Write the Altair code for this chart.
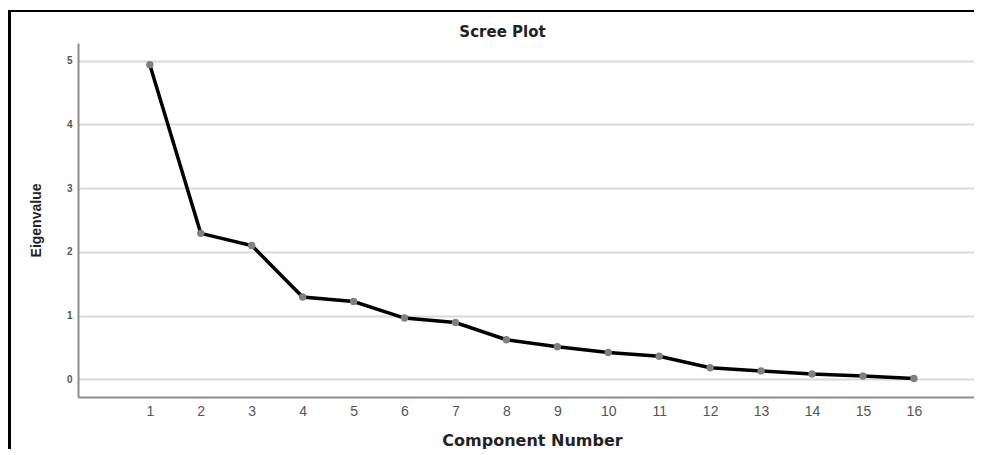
import altair as alt
import pandas as pd

components = list(range(1, 17))
eigenvalues = [4.94, 2.29, 2.10, 1.29, 1.22, 0.96, 0.89, 0.62,
               0.51, 0.42, 0.36, 0.18, 0.13, 0.08, 0.05, 0.01]
x_ticks = list(range(1, 17))
y_ticks = [0, 1, 2, 3, 4, 5]
chart_title = ["Scree Plot"]

df = pd.DataFrame({"Component Number": components, "Eigenvalue": eigenvalues})
tdf = pd.DataFrame({"t": chart_title})

W, H = 896, 354

x_enc = alt.X(
    "Component Number:Q",
    scale=alt.Scale(domain=[-0.41, 17.18], nice=False, zero=False),
    axis=alt.Axis(
        values=x_ticks, grid=False, ticks=False, domainColor="#8c8c8c", domainWidth=2,
        labelFont="Liberation Sans", labelFontSize=14, labelColor="#555555", labelPadding=7,
        title="Component Number", titleFont="DejaVu Sans", titleFontWeight="bold",
        titleFontSize=16, titleColor="#222222", titleX=454, titleY=43,
        titleAlign="center", titleBaseline="middle",
    ),
)
y_enc = alt.Y(
    "Eigenvalue:Q",
    scale=alt.Scale(domain=[-0.28, 5.28], nice=False, zero=False),
    axis=alt.Axis(
        values=y_ticks, grid=True, gridColor="#d9d9d9", gridWidth=2, ticks=False,
        domainColor="#8c8c8c", domainWidth=2,
        labelFont="Liberation Sans", labelFontSize=10, labelFontWeight="bold",
        labelColor="#555555", labelPadding=6,
        title="Eigenvalue", titleFont="Liberation Sans Narrow, Liberation Sans", titleFontWeight="bold",
        titleFontSize=14, titleColor="#222222", titleX=-42, titleY=H / 2,
        titleAlign="center", titleBaseline="middle",
    ),
)

base = alt.Chart(df)
line = base.mark_line(color="#000000", strokeWidth=3.5).encode(x=x_enc, y=y_enc)
pts = base.mark_circle(color="#808080", size=55, opacity=1).encode(x=x_enc, y=y_enc)

title_mark = alt.Chart(tdf).mark_text(
    font="DejaVu Sans", fontSize=15, fontWeight="bold", color="#222222",
    align="center", baseline="middle",
).encode(x=alt.value(W / 2 - 23.5), y=alt.value(-11), text="t:N")

left_border = alt.Chart(df).mark_rule(color="#000000", strokeWidth=2).encode(
    x=alt.value(-68.5), y=alt.value(-32), y2=alt.value(H + 80)
)
top_border = alt.Chart(df).mark_rule(color="#000000", strokeWidth=2).encode(
    x=alt.value(-69.5), x2=alt.value(W + 40), y=alt.value(-32)
)

chart = alt.layer(line, pts, title_mark, left_border, top_border).properties(
    width=W, height=H,
    autosize=alt.AutoSizeParams(type="none"),
    padding={"left": 70, "top": 35, "right": 0, "bottom": 52},
).configure_view(stroke=None)

chart.save("out.html", embed_options={"renderer": "svg", "actions": False})
